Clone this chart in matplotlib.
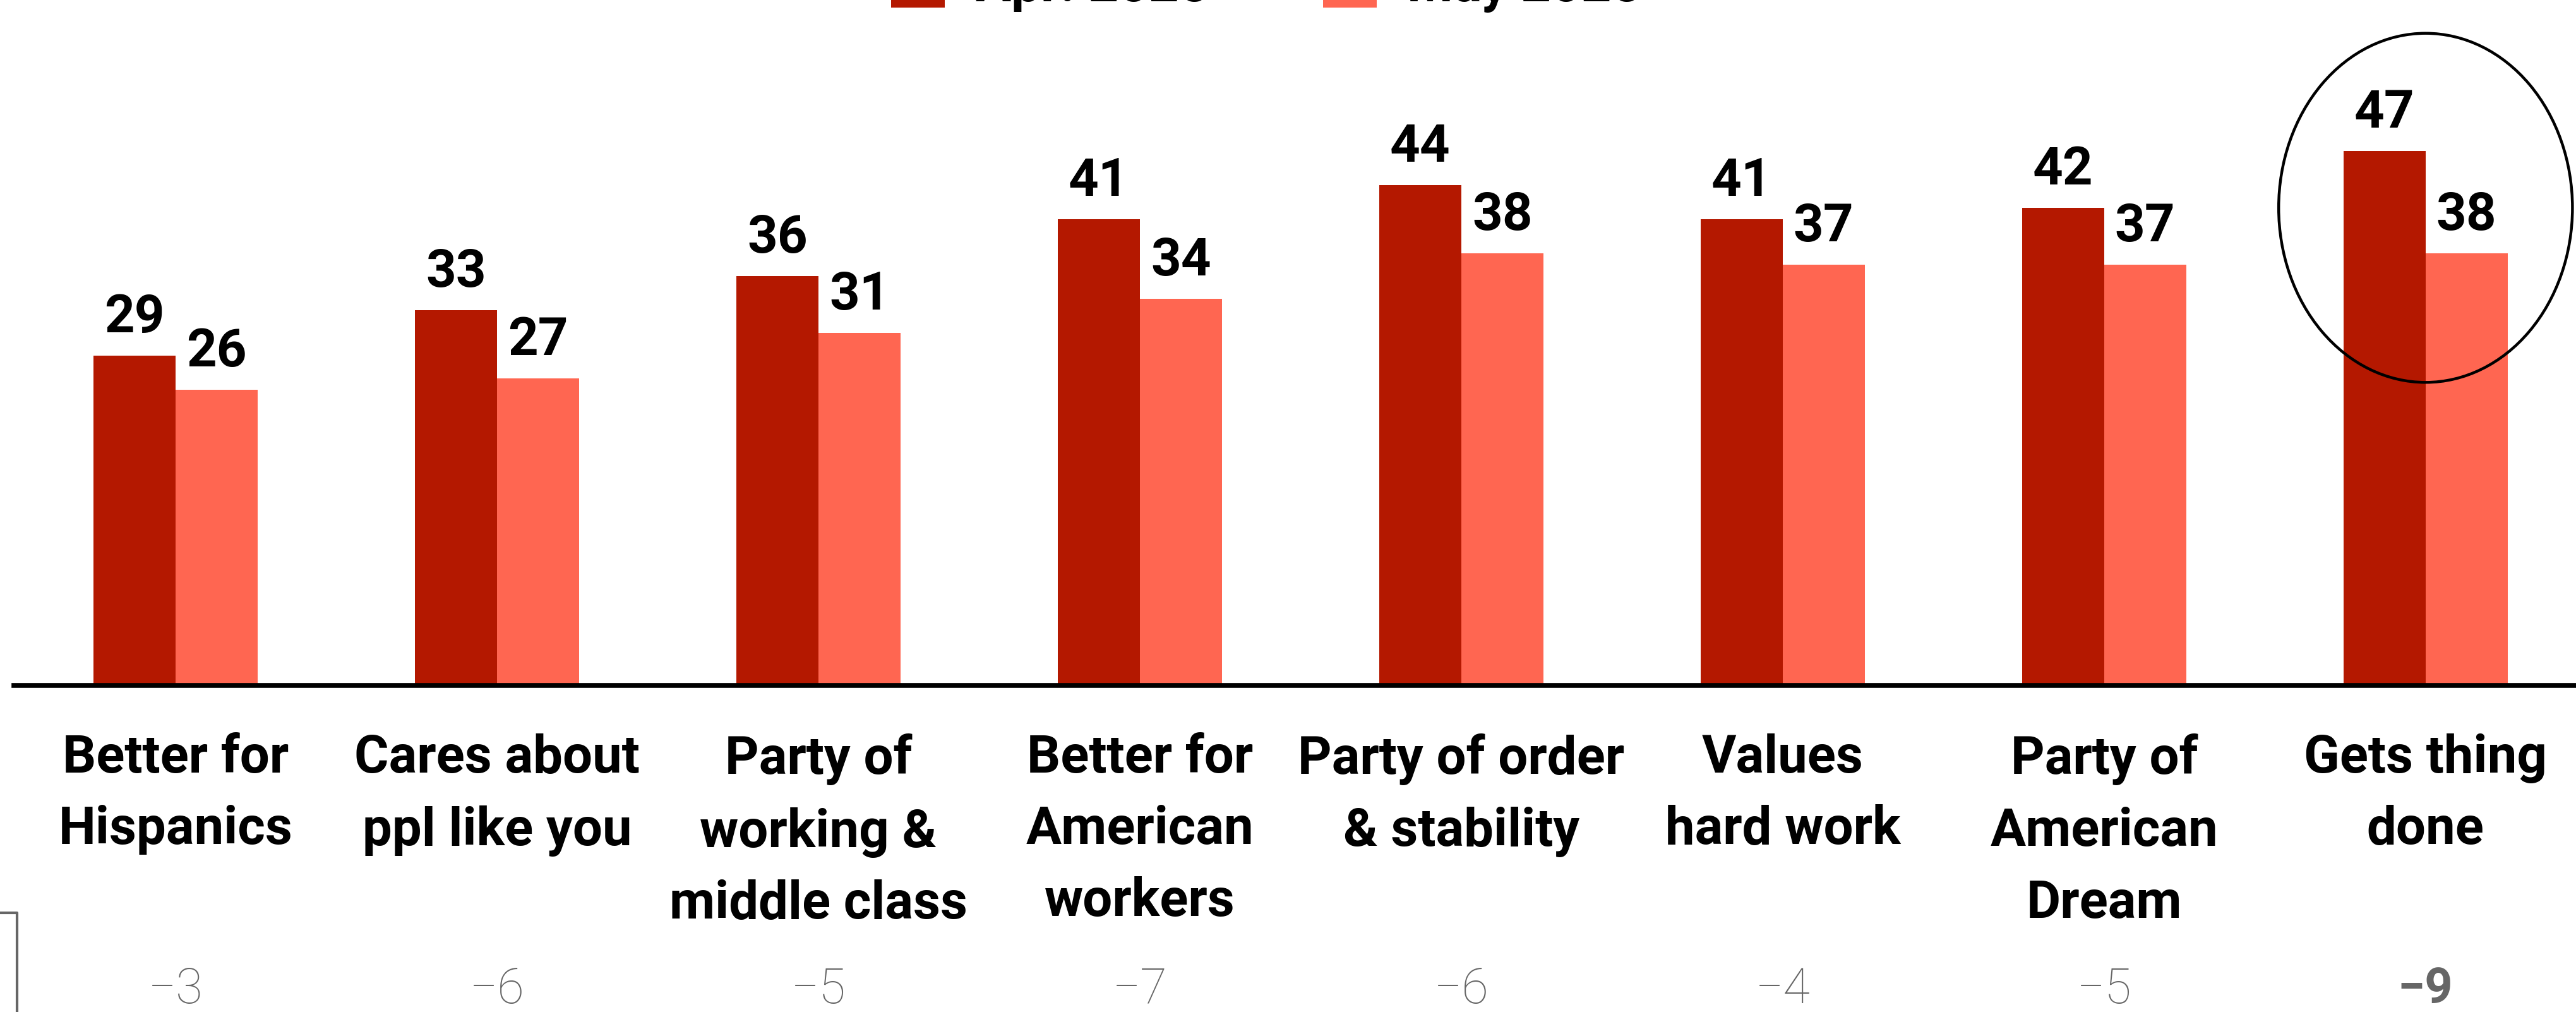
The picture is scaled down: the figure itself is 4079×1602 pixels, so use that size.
import numpy as np
import matplotlib
matplotlib.use('Agg')
import matplotlib.pyplot as plt
from matplotlib.patches import Ellipse, Rectangle
from matplotlib.lines import Line2D
import matplotlib.transforms as mtransforms

plt.rcParams['font.family'] = ['Roboto', 'DejaVu Sans']

# survey traits and scores for the two waves
categories = ['Better for\nHispanics', 'Cares about\nppl like you', 'Party of\nworking &\nmiddle class',
              'Better for\nAmerican\nworkers', 'Party of order\n& stability', 'Values\nhard work',
              'Party of\nAmerican\nDream', 'Gets thing\ndone']
series_names = ['Apr. 2025', 'May 2025']
apr_values = [29, 33, 36, 41, 44, 41, 42, 47]
may_values = [26, 27, 31, 34, 38, 37, 37, 38]
highlight = 7

dark_red = '#B41800'
light_red = '#FF6651'
gray = '#666666'

W, H = 4080, 1602
fig = plt.figure(figsize=(W / 100, H / 100), dpi=100)
ax = fig.add_axes([22 / W, (H - 1085) / H, 4058 / W, 900 / H])

x = np.arange(len(categories))
bw = 0.255
b1 = ax.bar(x - bw / 2, apr_values, bw, color=dark_red, zorder=2)
b2 = ax.bar(x + bw / 2, may_values, bw, color=light_red, zorder=2)
ax.bar_label(b1, padding=14.5, fontsize=60, fontweight='bold', color='black')
ax.bar_label(b2, padding=14.5, fontsize=60, fontweight='bold', color='black')

ax.set_xlim(-0.503, 7.47)
ax.set_ylim(0, 50)
ax.set_yticks([])
ax.set_xticks([])
for s in ['top', 'left', 'right']:
    ax.spines[s].set_visible(False)
ax.spines['bottom'].set_linewidth(5.5)
ax.spines['bottom'].set_color('black')
ax.spines['bottom'].set_zorder(3)

# category names under the baseline
for i, name in enumerate(categories):
    ax.annotate(name, xy=(x[i], 0), xycoords=('data', 'axes fraction'),
                xytext=(0, -55), textcoords='offset points',
                ha='center', va='top', fontsize=60, fontweight='bold',
                linespacing=1.55)

# change between waves
trans = mtransforms.blended_transform_factory(ax.transData, fig.transFigure)
diffs = np.array(may_values) - np.array(apr_values)
for i, d in enumerate(diffs):
    fig.text(x[i], (H - 1588) / H, '\u2212' + str(abs(d)), transform=trans,
             ha='center', va='baseline', fontsize=56, color=gray,
             fontweight='bold' if i == highlight else 'light')

# circle around the biggest drop
ell = Ellipse((x[highlight], 42.0), 0.914, 30.7, fill=False, edgecolor='black',
              linewidth=3.2, clip_on=False, zorder=4)
ax.add_patch(ell)

# legend along the top edge
for x0, lab, col, tx in [(1411, series_names[0], dark_red, 1545), (2095, series_names[1], light_red, 2228)]:
    fig.add_artist(Rectangle((x0 / W, (H - 12) / H), 85 / W, 85 / H, transform=fig.transFigure,
                             facecolor=col, edgecolor='none'))
    fig.text(tx / W, (H - 2) / H, lab, ha='left', va='baseline', fontsize=60,
             fontweight='bold', color='black')

# bracket stub at the bottom left
fig.add_artist(Line2D([0, 27 / W, 27 / W], [(H - 1445) / H, (H - 1445) / H, 0],
                      transform=fig.transFigure, color=gray, linewidth=3))

fig.savefig('out.png', dpi=100, facecolor='white')
